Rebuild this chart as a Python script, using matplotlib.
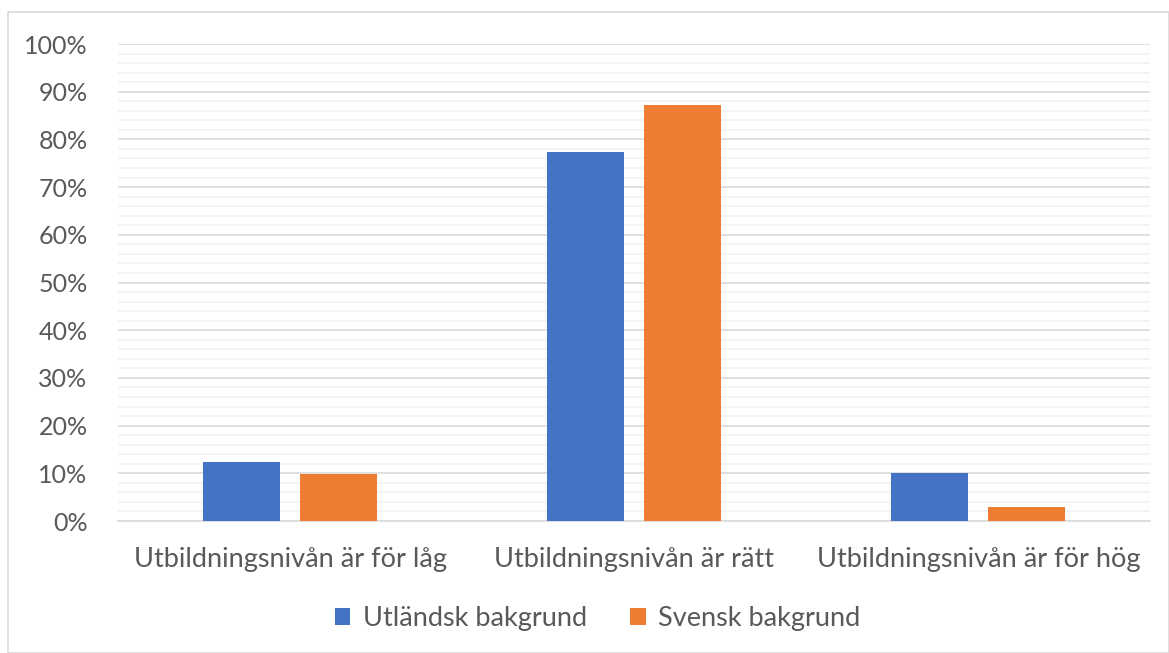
import numpy as np
import matplotlib.pyplot as plt
from matplotlib.patches import Rectangle
from matplotlib.ticker import MultipleLocator, PercentFormatter

plt.rcParams['font.family'] = ['Lato', 'DejaVu Sans']

categories = ['Utbildningsnivån är för låg', 'Utbildningsnivån är rätt', 'Utbildningsnivån är för hög']
utlandsk = [12.4, 77.4, 10.1]
svensk = [9.9, 87.2, 2.9]
series_names = ['Utländsk bakgrund', 'Svensk bakgrund']

blue = '#4472C4'
orange = '#ED7D31'
textc = '#595959'

fig = plt.figure(figsize=(11.69, 6.53), dpi=100)
ax = fig.add_axes([0.101, 0.2021, 0.883, 0.7305])

x = np.arange(len(categories))
w = 0.224
off = 0.141
ax.bar(x - off, utlandsk, w, color=blue, label=series_names[0], zorder=3)
ax.bar(x + off, svensk, w, color=orange, label=series_names[1], zorder=3)

ax.set_xlim(-0.5, 2.5)
ax.set_ylim(0, 100)
ax.yaxis.set_major_locator(MultipleLocator(10))
ax.yaxis.set_minor_locator(MultipleLocator(2))
ax.yaxis.set_major_formatter(PercentFormatter(decimals=0))
ax.grid(axis='y', which='major', color='#D9D9D9', linewidth=1.2, zorder=0)
ax.grid(axis='y', which='minor', color='#F2F2F2', linewidth=1.2, zorder=0)
ax.set_xticks(x)
ax.set_xticklabels(categories)
ax.tick_params(axis='both', which='both', length=0, labelcolor=textc)
ax.tick_params(axis='x', labelsize=19.5, pad=19)
ax.tick_params(axis='y', labelsize=18, pad=22)
for s in ['top', 'right', 'left']:
    ax.spines[s].set_visible(False)
ax.spines['bottom'].set_color('#D9D9D9')
ax.spines['bottom'].set_linewidth(1.2)

leg = fig.legend(loc='center', bbox_to_anchor=(0.511, 0.053), ncol=2, frameon=False,
                 fontsize=19.5, handlelength=0.58, handleheight=0.58, handletextpad=0.45,
                 columnspacing=1.6)
for t in leg.get_texts():
    t.set_color(textc)

fig.patches.append(Rectangle((8 / 1169, 0), 1 - 8 / 1169, 1 - 12 / 653, transform=fig.transFigure,
                             fill=False, edgecolor='#D9D9D9', linewidth=1.2))

fig.savefig('out.png', dpi=100)
